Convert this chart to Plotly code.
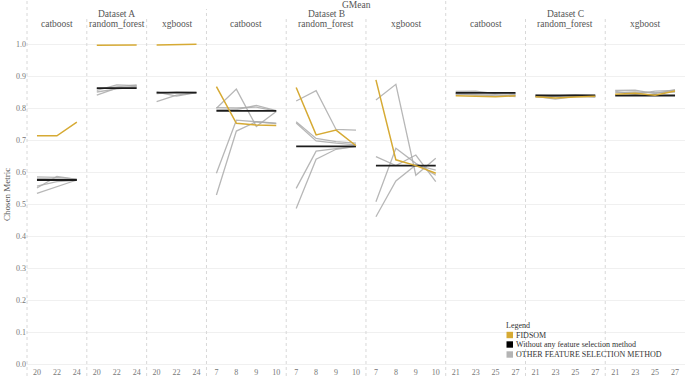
import plotly.graph_objects as go
from plotly.subplots import make_subplots

# ---------------- data ----------------
datasets = ["Dataset A", "Dataset B", "Dataset C"]
models = ["catboost", "random_forest", "xgboost"]
x_A = [20, 22, 24]
x_B = [7, 8, 9, 10]
x_C = [21, 23, 25, 27]

# Dataset A
A_cat_fidsom = [0.713, 0.713, 0.756]
A_cat_base = [0.575, 0.575, 0.575]
A_cat_others = [[0.585, 0.583, 0.578], [0.580, 0.578, 0.576],
                [0.550, 0.586, 0.577], [0.533, 0.555, 0.575],
                [0.556, 0.570, 0.574]]
A_rf_fidsom = [0.996, 0.996, 0.997]
A_rf_base = [0.862, 0.862, 0.862]
A_rf_others = [[0.840, 0.862, 0.868], [0.855, 0.872, 0.870],
               [0.860, 0.866, 0.872], [0.850, 0.860, 0.865]]
A_xgb_fidsom = [0.997, 0.998, 0.999]
A_xgb_base = [0.848, 0.848, 0.848]
A_xgb_others = [[0.820, 0.840, 0.848], [0.850, 0.837, 0.848],
                [0.845, 0.850, 0.849]]

# Dataset B
B_cat_fidsom = [0.867, 0.752, 0.747, 0.745]
B_cat_base = [0.791, 0.791, 0.791, 0.791]
B_cat_others = [[0.799, 0.859, 0.742, 0.789], [0.801, 0.800, 0.803, 0.790],
                [0.596, 0.762, 0.757, 0.753], [0.528, 0.728, 0.757, 0.751],
                [0.795, 0.795, 0.808, 0.792]]
B_rf_fidsom = [0.864, 0.716, 0.731, 0.682]
B_rf_base = [0.680, 0.680, 0.680, 0.680]
B_rf_others = [[0.822, 0.854, 0.733, 0.731], [0.757, 0.705, 0.695, 0.690],
               [0.753, 0.697, 0.690, 0.685], [0.549, 0.665, 0.673, 0.679],
               [0.486, 0.640, 0.671, 0.680]]
B_xgb_fidsom = [0.888, 0.638, 0.620, 0.596]
B_xgb_base = [0.620, 0.620, 0.620, 0.620]
B_xgb_others = [[0.825, 0.874, 0.590, 0.643], [0.648, 0.620, 0.653, 0.570],
                [0.507, 0.674, 0.627, 0.590], [0.460, 0.572, 0.622, 0.606]]

# Dataset C
C_cat_fidsom = [0.838, 0.836, 0.835, 0.838]
C_cat_base = [0.847, 0.847, 0.847, 0.847]
C_cat_others = [[0.852, 0.853, 0.845, 0.843], [0.843, 0.842, 0.838, 0.840],
                [0.845, 0.840, 0.842, 0.836]]
C_rf_fidsom = [0.835, 0.831, 0.834, 0.837]
C_rf_base = [0.839, 0.839, 0.839, 0.839]
C_rf_others = [[0.836, 0.828, 0.836, 0.835], [0.840, 0.838, 0.842, 0.839],
               [0.834, 0.836, 0.840, 0.834]]
C_xgb_fidsom = [0.843, 0.846, 0.840, 0.853]
C_xgb_base = [0.839, 0.839, 0.839, 0.839]
C_xgb_others = [[0.855, 0.856, 0.845, 0.857], [0.852, 0.843, 0.853, 0.855],
                [0.848, 0.850, 0.848, 0.850]]

legend_labels = ["FIDSOM", "Without any feature selection method",
                 "OTHER FEATURE SELECTION METHOD"]

# ---------------- style ----------------
FONT = "Liberation Serif"
GOLD = "#d6aa34"
BLACK = "#1c1c1c"
GREY = "rgba(170,170,170,0.85)"
TXT = "#555555"

W, H = 685, 376
ML, MR, MT, MB = 27, 0, 32, 10
PW = W - ML - MR
PH = H - MT - MB
ZERO_PX = 364          # pixel row of value 0.0
PX_PER_UNIT = 320      # pixels per 1.0 of the metric


def px_x(px):
    return (px - ML) / PW


def px_y(py):
    return (H - MB - py) / PH


panels = [
    (x_A, A_cat_fidsom, A_cat_base, A_cat_others),
    (x_A, A_rf_fidsom, A_rf_base, A_rf_others),
    (x_A, A_xgb_fidsom, A_xgb_base, A_xgb_others),
    (x_B, B_cat_fidsom, B_cat_base, B_cat_others),
    (x_B, B_rf_fidsom, B_rf_base, B_rf_others),
    (x_B, B_xgb_fidsom, B_xgb_base, B_xgb_others),
    (x_C, C_cat_fidsom, C_cat_base, C_cat_others),
    (x_C, C_rf_fidsom, C_rf_base, C_rf_others),
    (x_C, C_xgb_fidsom, C_xgb_base, C_xgb_others),
]

fig = make_subplots(rows=1, cols=9, column_widths=[len(p[0]) for p in panels],
                    horizontal_spacing=0, shared_yaxes=True)

for i, (xs, fid, base, others) in enumerate(panels):
    col = i + 1
    xc = [str(v) for v in xs]
    for o in others:
        fig.add_trace(go.Scatter(x=xc, y=o, mode="lines",
                                 line=dict(color=GREY, width=1.3),
                                 showlegend=False, hoverinfo="skip"), 1, col)
    fig.add_trace(go.Scatter(x=xc, y=base, mode="lines",
                             line=dict(color=BLACK, width=1.8),
                             showlegend=False, hoverinfo="skip"), 1, col)
    fig.add_trace(go.Scatter(x=xc, y=fid, mode="lines",
                             line=dict(color=GOLD, width=1.5),
                             showlegend=False, hoverinfo="skip"), 1, col)
    fig.update_xaxes(type="category", categoryorder="array", categoryarray=xc,
                     range=[-0.5, len(xc) - 0.5], row=1, col=col)

y_lo = -(H - MB - ZERO_PX) / PX_PER_UNIT
y_hi = y_lo + PH / PX_PER_UNIT

fig.update_xaxes(showgrid=False, zeroline=False, showline=False, ticks="",
                 automargin=False,
                 tickfont=dict(family=FONT, size=8, color="#777777"))
fig.update_yaxes(range=[y_lo, y_hi], dtick=0.1, tick0=0, tickformat=".1f",
                 showgrid=True, gridcolor="#f0f0f0", gridwidth=1,
                 zeroline=False, showline=False, ticks="", automargin=False,
                 tickfont=dict(family=FONT, size=8, color="#777777"))

# domains of columns
doms = []
for i in range(9):
    ax = fig.layout["xaxis" if i == 0 else f"xaxis{i+1}"]
    doms.append(ax.domain)

shapes = []
annotations = []

# dividers
bottom = px_y(H)
DIV = dict(color="#d8d8d8", width=1, dash="dot")
shapes.append(dict(type="line", xref="paper", yref="paper", x0=0, x1=0,
                   y0=bottom, y1=px_y(0), line=DIV))
for i in range(8):
    xb = doms[i][1]
    if i == 2:
        top = px_y(9)
    elif i == 5:
        top = px_y(0)
    else:
        top = px_y(18)
    shapes.append(dict(type="line", xref="paper", yref="paper", x0=xb, x1=xb,
                       y0=bottom, y1=top, line=DIV))

# headers
annotations.append(dict(text="GMean", xref="paper", yref="paper", x=0.5, y=px_y(5.5),
                        showarrow=False, font=dict(family=FONT, size=9.5, color=TXT),
                        xanchor="center", yanchor="middle"))
for d in range(3):
    x0 = doms[3 * d][0]
    x1 = doms[3 * d + 2][1]
    annotations.append(dict(text=datasets[d], xref="paper", yref="paper",
                            x=(x0 + x1) / 2, y=px_y(14), showarrow=False,
                            font=dict(family=FONT, size=9.5, color=TXT),
                            xanchor="center", yanchor="middle"))
    for m in range(3):
        dm = doms[3 * d + m]
        annotations.append(dict(text=models[m], xref="paper", yref="paper",
                                x=(dm[0] + dm[1]) / 2, y=px_y(23.5), showarrow=False,
                                font=dict(family=FONT, size=9.5, color=TXT),
                                xanchor="center", yanchor="middle"))

# y title
annotations.append(dict(text="Chosen Metric", xref="paper", yref="paper",
                        x=px_x(7), y=px_y(195), textangle=-90, showarrow=False,
                        font=dict(family=FONT, size=9, color=TXT),
                        xanchor="center", yanchor="middle"))

# legend (manual)
annotations.append(dict(text="Legend", xref="paper", yref="paper",
                        x=px_x(504), y=px_y(325), showarrow=False,
                        font=dict(family=FONT, size=8, color="#333333"),
                        xanchor="left", yanchor="middle"))
leg_cols = [GOLD, "#000000", "#b4b4b4"]
leg_y = [335, 344.5, 354.5]
for lab, c, yy in zip(legend_labels, leg_cols, leg_y):
    shapes.append(dict(type="rect", xref="paper", yref="paper",
                       x0=px_x(506.5), x1=px_x(513), y0=px_y(yy + 3.2), y1=px_y(yy - 3.2),
                       fillcolor=c, line=dict(width=0)))
    annotations.append(dict(text=lab, xref="paper", yref="paper",
                            x=px_x(513.5), y=px_y(yy), showarrow=False,
                            font=dict(family=FONT, size=8, color="#333333"),
                            xanchor="left", yanchor="middle"))

fig.update_layout(width=W, height=H, margin=dict(l=ML, r=MR, t=MT, b=MB),
                  paper_bgcolor="white", plot_bgcolor="white",
                  showlegend=False, shapes=shapes, annotations=annotations,
                  font=dict(family=FONT, color=TXT))

fig.write_html("out.html", config={"displayModeBar": False},
               post_script="document.body.style.margin='0';"
                           "document.body.style.overflow='hidden';")
